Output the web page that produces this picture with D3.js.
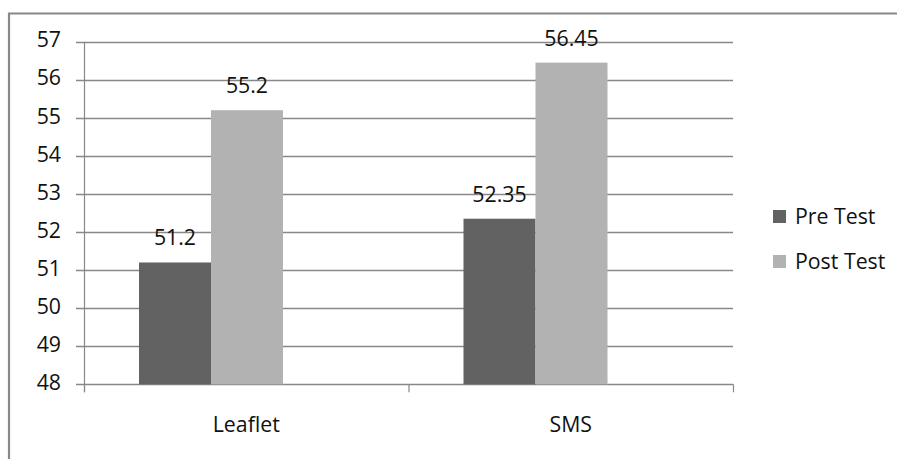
<!DOCTYPE html>
<html><head><meta charset="utf-8">
<script src="https://cdn.jsdelivr.net/npm/d3@7"></script>
<style>body{margin:0;background:#fff}svg{display:block}text{font-family:"Open Sans",sans-serif;fill:#111}</style>
</head><body>
<svg id="c" width="897" height="459"></svg>
<script>
const categories = ["Leaflet", "SMS"];
const seriesNames = ["Pre Test", "Post Test"];
const preTest = [51.2, 52.35];
const postTest = [55.2, 56.45];
const yTicks = [48, 49, 50, 51, 52, 53, 54, 55, 56, 57];
const colors = ["#626262", "#b2b2b2"];

const svg = d3.select("#c");
const fs = 21.3;
const pLeft = 84, pRight = 733, pTop = 41.7, pBottom = 384.3;

// frame
svg.append("path").attr("d", "M9,470 V13.5 H900").attr("fill", "none").attr("stroke", "#888").attr("stroke-width", 2.2);

const y = d3.scaleLinear().domain([48, 57]).range([pBottom, pTop]);
const x = d3.scaleBand().domain(categories).range([pLeft, pRight]);
const xs = d3.scaleBand().domain(seriesNames).range([55, 199]);

// gridlines + y ticks
svg.append("g").selectAll("line").data(yTicks).join("line")
  .attr("x1", pLeft - 8).attr("x2", pRight)
  .attr("y1", d => Math.round(y(d)) + 0.5).attr("y2", d => Math.round(y(d)) + 0.5)
  .attr("stroke", "#888").attr("stroke-width", 1.6);

svg.append("g").selectAll("text").data(yTicks).join("text")
  .attr("x", 61).attr("y", d => y(d) - 2).attr("dy", "0.36em")
  .attr("text-anchor", "end").attr("font-size", fs).text(d => d);

// y axis
svg.append("line").attr("x1", pLeft + 0.5).attr("x2", pLeft + 0.5).attr("y1", pTop).attr("y2", pBottom + 8)
  .attr("stroke", "#888").attr("stroke-width", 1.2);
// category ticks
const catTicks = [pLeft, (pLeft + pRight) / 2, pRight];
svg.append("g").selectAll("line").data(catTicks).join("line")
  .attr("x1", d => d + 0.5).attr("x2", d => d + 0.5).attr("y1", pBottom).attr("y2", pBottom + 8)
  .attr("stroke", "#888").attr("stroke-width", 1.2);

// bars
const data = categories.map((c, i) => ({c, vals: [preTest[i], postTest[i]]}));
const g = svg.append("g").selectAll("g").data(data).join("g")
  .attr("transform", d => `translate(${x(d.c)},0)`);
g.selectAll("rect").data(d => d.vals.map((v, j) => ({v, s: seriesNames[j], j}))).join("rect")
  .attr("x", d => xs(d.s)).attr("width", xs.bandwidth())
  .attr("y", d => y(d.v)).attr("height", d => y(48) - y(d.v))
  .attr("fill", d => colors[d.j]);
g.selectAll("text").data(d => d.vals.map((v, j) => ({v, s: seriesNames[j], j}))).join("text")
  .attr("x", d => xs(d.s) + xs.bandwidth() / 2).attr("y", d => y(d.v) - 17)
  .attr("text-anchor", "middle").attr("font-size", fs).text(d => d.v);

// category labels
svg.append("g").selectAll("text").data(categories).join("text")
  .attr("x", d => x(d) + x.bandwidth() / 2).attr("y", 432)
  .attr("text-anchor", "middle").attr("font-size", fs).text(d => d);

// legend
const lg = svg.append("g").selectAll("g").data(seriesNames).join("g")
  .attr("transform", (d, i) => `translate(773,${210 + i * 45})`);
lg.append("rect").attr("width", 13).attr("height", 13).attr("fill", (d, i) => colors[i]);
lg.append("text").attr("x", 22).attr("y", 14).attr("font-size", fs).text(d => d);
</script>
</body></html>
